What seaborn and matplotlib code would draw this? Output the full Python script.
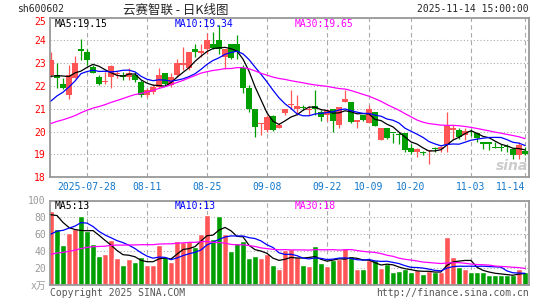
import numpy as np
import pandas as pd
import matplotlib
matplotlib.use('Agg')
import matplotlib.pyplot as plt
import seaborn as sns

# ---- data (sh600602, daily K) ----
open_p = [22.47, 22.50, 22.07, 21.60, 22.36, 23.60, 23.50, 22.84, 22.40, 22.18,
          22.40, 22.52, 22.50, 22.40, 22.50, 22.18, 21.60, 21.75, 21.96, 22.59,
          22.04, 22.47, 22.91, 22.80, 23.60, 23.45, 23.64, 23.82, 24.00, 23.29,
          23.82, 23.82, 22.77, 21.92, 20.99, 20.33, 20.06, 20.69, 20.17, 20.80,
          21.18, 21.01, 21.06, 20.94, 21.13, 20.84, 20.72, 20.99, 20.31, 21.28,
          21.28, 20.43, 20.75, 20.36, 20.84, 19.63, 20.17, 19.94, 19.87, 19.96,
          19.30, 19.12, 19.10, 19.14, 19.25, 19.23, 19.41, 20.07, 20.07, 19.85,
          20.00, 19.92, 19.50, 19.49, 19.30, 19.31, 19.35, 19.26, 18.97, 19.15]
high_p = [23.50, 22.99, 22.35, 22.91, 23.32, 24.05, 23.64, 22.94, 22.47, 22.62,
          22.91, 22.65, 22.60, 22.77, 22.62, 22.26, 21.90, 22.10, 22.80, 22.59,
          22.55, 23.20, 23.72, 23.50, 23.86, 23.86, 24.30, 24.37, 24.66, 23.64,
          23.86, 24.23, 22.94, 22.04, 21.01, 20.40, 20.72, 20.72, 20.36, 21.01,
          21.82, 21.60, 21.16, 21.13, 21.82, 20.94, 21.01, 21.01, 21.07, 21.82,
          21.28, 20.50, 20.75, 21.16, 20.84, 20.17, 20.17, 19.94, 19.99, 19.96,
          19.48, 19.29, 19.15, 19.19, 19.34, 19.38, 20.87, 20.28, 20.17, 20.14,
          20.12, 19.96, 19.53, 19.49, 19.53, 19.44, 19.44, 19.29, 19.55, 19.34]
low_p = [22.40, 21.92, 21.86, 21.45, 22.33, 23.13, 22.94, 22.55, 22.04, 22.10,
         21.90, 22.33, 22.25, 22.25, 22.18, 21.53, 21.53, 21.67, 21.89, 22.00,
         21.96, 22.40, 22.69, 22.70, 23.28, 23.28, 23.42, 23.64, 23.42, 22.75,
         23.20, 23.20, 21.70, 20.87, 19.77, 19.85, 19.99, 20.04, 20.14, 20.72,
         20.99, 20.72, 20.94, 20.72, 20.72, 20.46, 20.46, 19.99, 20.17, 21.28,
         20.40, 20.17, 20.46, 20.36, 20.26, 19.63, 19.67, 19.52, 19.48, 19.12,
         19.04, 18.90, 18.97, 18.60, 19.12, 19.09, 19.09, 19.67, 19.67, 19.63,
         19.82, 19.55, 19.23, 19.19, 19.29, 19.15, 19.12, 18.82, 18.82, 18.97]
close_p = [23.13, 22.33, 21.92, 22.50, 22.99, 23.53, 23.13, 22.59, 22.08, 22.24,
           22.87, 22.55, 22.40, 22.55, 22.25, 21.60, 21.82, 21.96, 22.47, 22.10,
           22.40, 22.99, 23.01, 23.50, 23.50, 23.53, 24.00, 23.67, 23.64, 23.62,
           23.23, 23.50, 21.89, 21.01, 20.21, 20.36, 20.64, 20.06, 20.31, 20.99,
           21.20, 21.13, 21.04, 21.01, 20.99, 20.65, 20.94, 20.46, 21.07, 21.45,
           20.43, 20.50, 20.50, 20.99, 20.26, 20.17, 19.70, 19.92, 19.85, 19.19,
           19.09, 19.23, 19.08, 19.16, 19.23, 19.34, 20.28, 20.14, 19.77, 20.03,
           19.98, 19.70, 19.48, 19.48, 19.29, 19.29, 19.33, 18.97, 19.41, 19.00]
volume = [87, 65.5, 47, 61.5, 66, 82, 63.5, 48, 33.5, 36,
          53.5, 31.5, 23, 30, 27, 32.5, 23, 23, 47, 32.5,
          26.5, 51.5, 51, 52, 44.5, 60, 83, 54.5, 82, 60,
          40, 50, 52, 31.5, 34, 31.5, 36.3, 23.3, 18.5, 40.7,
          42.3, 33, 23, 22, 46, 26, 22, 29, 30, 44,
          34, 19, 19, 29, 29, 20, 24, 15, 16, 19,
          14.3, 17, 12.3, 16, 14.3, 15, 56, 33, 21, 18.3,
          15, 15, 15, 11, 11, 11, 11, 11, 18.3, 14.3]
# sessions before the window, only needed to start the moving averages
pre_close = [19.6, 19.8, 19.9, 20.1, 19.8, 19.7, 19.9, 20.0, 19.8, 19.9,
             20.0, 19.9, 19.7, 19.8, 20.1, 20.0, 19.9, 19.8, 19.9, 19.7,
             20.1, 20.3, 20.2, 20.4, 20.3, 22.2, 22.0, 22.6, 22.2]
pre_vol = [22, 25, 24, 26, 23, 21, 24, 25, 27, 23,
           22, 24, 26, 25, 23, 24, 22, 25, 26, 25,
           30, 38, 35, 42, 40, 70, 88, 92, 78]
ma_price_text = ['MA5:19.15', 'MA10:19.34', 'MA30:19.65']
ma_vol_text = ['MA5:13', 'MA10:13', 'MA30:18']
tick_dates = ['2025-07-28', '2025-08-11', '2025-08-25', '2025-09-08', '2025-09-22',
              '2025-10-09', '2025-10-20', '2025-11-03', '2025-11-14']
tick_labels = ['2025-07-28', '08-11', '08-25', '09-08', '09-22',
               '10-09', '10-20', '11-03', '11-14']

# trading days (national day holiday removed)
dates = pd.bdate_range('2025-07-18', '2025-11-14')
dates = dates[(dates < '2025-10-01') | (dates > '2025-10-08')]
idx = np.arange(len(dates))
tick_pos = dates.get_indexer(pd.to_datetime(tick_dates))

o = np.array(open_p); h = np.array(high_p); l = np.array(low_p); c = np.array(close_p)
v = np.array(volume)
n_pre = len(pre_close)
full_c = pd.Series(np.r_[pre_close, c])
full_v = pd.Series(np.r_[pre_vol, v])
ma_p = {w: full_c.rolling(w).mean().values[n_pre:] for w in (5, 10, 30)}
ma_v = {w: full_v.rolling(w).mean().values[n_pre:] for w in (5, 10, 30)}

RED = '#ff5555'
GREEN = '#009f00'
ma_cols = {5: 'black', 10: '#0000ff', 30: '#ff00ff'}
up = c >= o
cols = np.where(up, RED, GREEN)

sns.set_style('white')
plt.rcParams['font.family'] = ['DejaVu Sans Mono', 'Noto Sans CJK SC']

W, H = 545, 300
fig = plt.figure(figsize=(W / 100, H / 100), dpi=100)
ax1 = fig.add_axes([50 / W, 1 - 177.3 / H, 479 / W, 159.8 / H])
ax2 = fig.add_axes([50 / W, 1 - 284.5 / H, 479 / W, 84 / H])

# candles
body_lo = np.minimum(o, c)
body_h = np.maximum(np.abs(c - o), 0.045)
ax1.vlines(idx, l, h, colors=cols, lw=0.9, zorder=2)
ax1.bar(idx, body_h, bottom=body_lo, width=0.86, color=cols, lw=0, zorder=3)
for w in (5, 10, 30):
    sns.lineplot(x=idx, y=ma_p[w], ax=ax1, color=ma_cols[w], lw=0.9,
                 estimator=None, zorder=4)

# volume
vol_df = pd.DataFrame({'i': idx, 'v': v, 'dir': np.where(up, 'up', 'down')})
sns.barplot(data=vol_df, x='i', y='v', hue='dir', palette={'up': RED, 'down': GREEN},
            dodge=False, native_scale=True, width=0.86, errorbar=None,
            saturation=1, legend=False, ax=ax2, zorder=2)
for w in (5, 10, 30):
    sns.lineplot(x=idx, y=ma_v[w], ax=ax2, color=ma_cols[w], lw=0.9,
                 estimator=None, zorder=4)

for ax in (ax1, ax2):
    ax.set_xlim(-1 / 6, -1 / 6 + 479 / 6)
    ax.set_xlabel('')
    ax.set_ylabel('')
    ax.set_xticks(tick_pos)
    ax.tick_params(length=0)
    ax.grid(axis='x', color='#aaaaaa', ls=(0, (4, 3)), lw=0.8)
    ax.grid(axis='y', color='#aaaaaa', ls=(0, (1, 2)), lw=0.8)
    ax.set_axisbelow(True)
    for s in ax.spines.values():
        s.set_color('#999999')
        s.set_linewidth(1.3)

ax1.set_ylim(18, 25)
ax1.set_yticks(range(18, 26))
ax1.set_yticklabels([str(t) for t in range(18, 26)], color='red', fontsize=7)
ax1.set_xticklabels(tick_labels, color='#1177cc', fontsize=7)
ax1.tick_params(axis='y', pad=3)
ax1.tick_params(axis='x', pad=3.5)
ax1.get_xticklabels()[-1].set_horizontalalignment('right')
ax1.get_yticklabels()[-1].set_verticalalignment('top')

ax2.set_ylim(0, 100)
ax2.set_yticks([0, 20, 40, 60, 80, 100])
ax2.set_yticklabels(['x万', '20', '40', '60', '80', '100'], color='#999999', fontsize=7)
ax2.tick_params(axis='y', pad=3)
ax2.set_xticklabels([])


def ftext(x, y, s, **kw):
    kw.setdefault('fontsize', 7)
    fig.text(x / W, 1 - y / H, s, va='center', **kw)


ftext(17, 9.5, 'sh600602')
ftext(176, 10, '云赛智联 - 日K线图', ha='center', fontsize=9,
      family=['Noto Sans CJK SC', 'DejaVu Sans'])
ftext(529, 9.5, '2025-11-14 15:00:00', ha='right')
for x0, s, w in zip((55, 175, 295), ma_price_text, (5, 10, 30)):
    ftext(x0, 24, s, color=ma_cols[w])
for x0, s, w in zip((55, 175, 295), ma_vol_text, (5, 10, 30)):
    ftext(x0, 206, s, color=ma_cols[w])
ftext(50, 293, 'Copyright 2025 SINA.COM', color='#555555')
ftext(529, 293, 'http://finance.sina.com.cn', ha='right', color='#555555')
ftext(512, 166, 'sina', ha='center', fontsize=10, style='italic', weight='bold',
      color='#cccccc', family='DejaVu Sans')

fig.savefig('out.png', dpi=100)
